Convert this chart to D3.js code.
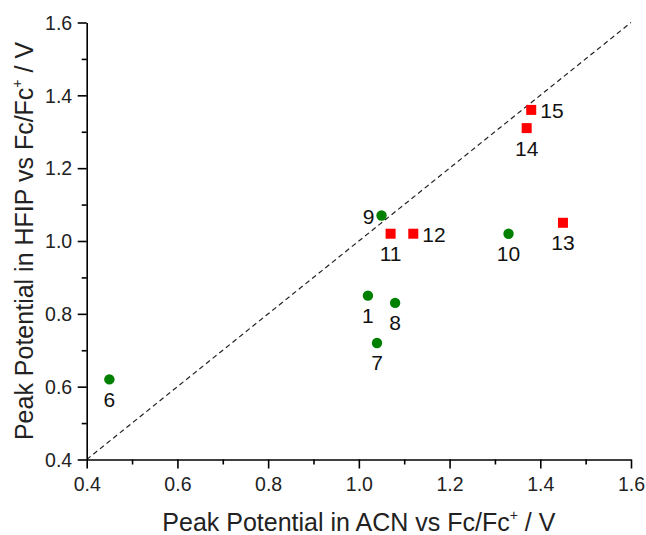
<!DOCTYPE html>
<html>
<head>
<meta charset="utf-8">
<script src="https://cdn.jsdelivr.net/npm/d3@7"></script>
<style>
  body { margin: 0; background: #fff; }
  svg { font-family: 'Liberation Sans', Arial, sans-serif; }
</style>
</head>
<body>
<div id="chart"></div>
<script>
// Data: peak potentials (V vs Fc/Fc+)
const greenLabels = ['6', '1', '8', '7', '9', '10'];
const greenAcn = [0.45, 1.02, 1.08, 1.04, 1.05, 1.33];
const greenHfip = [0.62, 0.85, 0.83, 0.72, 1.07, 1.02];

const redLabels = ['11', '12', '13', '14', '15'];
const redAcn = [1.07, 1.12, 1.45, 1.37, 1.38];
const redHfip = [1.02, 1.02, 1.05, 1.31, 1.36];

// label placement relative to marker
const labelPos = {
  '6': 'below', '1': 'below', '8': 'below', '7': 'below', '9': 'left', '10': 'below',
  '11': 'below', '12': 'right', '13': 'below', '14': 'below', '15': 'right'
};

const majorTicks = [0.4, 0.6, 0.8, 1.0, 1.2, 1.4, 1.6];
const minorTicks = [0.5, 0.7, 0.9, 1.1, 1.3, 1.5];

const W = 646, H = 535;
const margin = { top: 22.5, right: 15, bottom: 75.5, left: 86.7 };
const width = 631 - margin.left;
const height = 459.5 - margin.top;

const svg = d3.select('#chart')
  .append('svg')
  .attr('width', W)
  .attr('height', H)
  .append('g')
  .attr('transform', 'translate(' + margin.left + ',' + margin.top + ')');

const x = d3.scaleLinear().domain([0.4, 1.6]).range([0, width]);
const y = d3.scaleLinear().domain([0.4, 1.6]).range([height, 0]);

// diagonal y = x
svg.append('line')
  .attr('x1', x(0.4)).attr('y1', y(0.4))
  .attr('x2', x(1.6)).attr('y2', y(1.6))
  .attr('stroke', '#222')
  .attr('stroke-width', 1.2)
  .attr('stroke-dasharray', '5,3.5');

// axes
const xAxis = svg.append('g')
  .attr('transform', 'translate(0,' + height + ')')
  .call(d3.axisBottom(x).tickValues(majorTicks).tickSize(9).tickSizeOuter(0)
    .tickFormat(d3.format('.1f')));
svg.append('g')
  .attr('transform', 'translate(0,' + height + ')')
  .call(d3.axisBottom(x).tickValues(minorTicks).tickSize(5).tickFormat(''))
  .call(g => g.select('.domain').remove());

const yAxis = svg.append('g')
  .call(d3.axisLeft(y).tickValues(majorTicks).tickSize(9).tickSizeOuter(0)
    .tickFormat(d3.format('.1f')));
svg.append('g')
  .call(d3.axisLeft(y).tickValues(minorTicks).tickSize(5).tickFormat(''))
  .call(g => g.select('.domain').remove());

svg.selectAll('.domain, .tick line')
  .attr('stroke', '#000')
  .attr('stroke-width', 1.6);

xAxis.selectAll('.tick text')
  .attr('font-size', 19.5)
  .attr('font-family', 'Liberation Sans, Arial, sans-serif')
  .attr('fill', '#222')
  .attr('y', 31)
  .attr('dy', 0);
yAxis.selectAll('.tick text')
  .attr('font-size', 19.5)
  .attr('font-family', 'Liberation Sans, Arial, sans-serif')
  .attr('fill', '#222')
  .attr('x', -14.5)
  .attr('dy', '0.35em');

// axis titles
const xt = svg.append('text')
  .attr('x', x(1.0))
  .attr('y', 530.5 - margin.top)
  .attr('text-anchor', 'middle')
  .attr('font-size', 25)
  .attr('fill', '#222');
xt.append('tspan').text('Peak Potential in ACN vs Fc/Fc');
xt.append('tspan').attr('font-size', 14).attr('dy', -11).text('+');
xt.append('tspan').attr('dy', 11).text(' / V');

const yt = svg.append('text')
  .attr('transform', 'translate(' + (33 - margin.left) + ',' + (241 - margin.top) + ') rotate(-90)')
  .attr('text-anchor', 'middle')
  .attr('font-size', 25)
  .attr('fill', '#222');
yt.append('tspan').text('Peak Potential in HFIP vs Fc/Fc');
yt.append('tspan').attr('font-size', 14).attr('dy', -11).text('+');
yt.append('tspan').attr('dy', 11).text(' / V');

// points
const green = greenLabels.map((l, i) => ({ label: l, x: greenAcn[i], y: greenHfip[i] }));
const red = redLabels.map((l, i) => ({ label: l, x: redAcn[i], y: redHfip[i] }));

svg.selectAll('circle.pt')
  .data(green)
  .enter()
  .append('circle')
  .attr('class', 'pt')
  .attr('cx', d => x(d.x))
  .attr('cy', d => y(d.y))
  .attr('r', 5.2)
  .attr('fill', '#008000');

svg.selectAll('rect.pt')
  .data(red)
  .enter()
  .append('rect')
  .attr('class', 'pt')
  .attr('x', d => x(d.x) - 5)
  .attr('y', d => y(d.y) - 5)
  .attr('width', 10)
  .attr('height', 10)
  .attr('fill', '#ff0000');

// point labels
svg.selectAll('text.lbl')
  .data(green.concat(red))
  .enter()
  .append('text')
  .attr('class', 'lbl')
  .attr('font-size', 21)
  .attr('fill', '#111')
  .attr('x', d => {
    const p = labelPos[d.label];
    if (p === 'right') return x(d.x) + 9;
    if (p === 'left') return x(d.x) - 7;
    return x(d.x);
  })
  .attr('y', d => {
    const p = labelPos[d.label];
    if (p === 'below') return y(d.y) + 27.5;
    return y(d.y) + 8;
  })
  .attr('text-anchor', d => {
    const p = labelPos[d.label];
    if (p === 'right') return 'start';
    if (p === 'left') return 'end';
    return 'middle';
  })
  .text(d => d.label);
</script>
</body>
</html>
